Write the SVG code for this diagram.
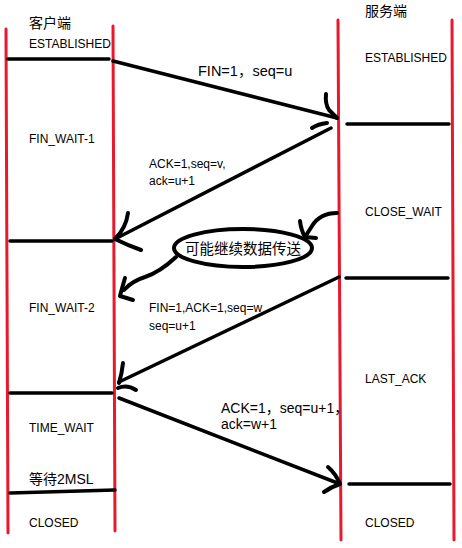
<svg xmlns="http://www.w3.org/2000/svg" width="462" height="548" viewBox="0 0 462 548">
<style>
.life{stroke:#e8192c;stroke-width:3;fill:none;stroke-linecap:round}
.ink{stroke:#000;stroke-width:3.5;fill:none;stroke-linecap:round;stroke-linejoin:round}
.head{stroke:#000;stroke-width:4;fill:none;stroke-linecap:round;stroke-linejoin:round}
text{font-family:"Liberation Sans","Noto Sans CJK SC",sans-serif;fill:#000}
.st{font-size:12px}
.hd{font-size:14px}
.msg{font-size:12px}
.big{font-size:14.5px}
.big2{font-size:14px}
</style>
<rect width="462" height="548" fill="#fff"/>
<g id="client">
  <line class="life" x1="6" y1="29" x2="8" y2="533"/>
  <line class="life" x1="113" y1="26" x2="115" y2="531"/>
  <text class="hd" x="29" y="28">客户端</text>
  <text class="st" x="29" y="48">ESTABLISHED</text>
  <text class="st" x="29" y="143">FIN_WAIT-1</text>
  <text class="st" x="29" y="312">FIN_WAIT-2</text>
  <text class="st" x="29" y="432">TIME_WAIT</text>
  <text class="hd" x="29" y="484">等待2MSL</text>
  <text class="st" x="29" y="527">CLOSED</text>
  <line class="ink" x1="8" y1="59" x2="109" y2="59"/>
  <line class="ink" x1="10" y1="241" x2="112" y2="241"/>
  <line class="ink" x1="10" y1="393" x2="112" y2="393"/>
  <line class="ink" x1="10" y1="493" x2="115" y2="490"/>
</g>
<g id="server">
  <line class="life" x1="338" y1="20" x2="341" y2="540"/>
  <line class="life" x1="452" y1="20" x2="454" y2="540"/>
  <text class="hd" x="365" y="16">服务端</text>
  <text class="st" x="365" y="62">ESTABLISHED</text>
  <text class="st" x="365" y="216">CLOSE_WAIT</text>
  <text class="st" x="365" y="383">LAST_ACK</text>
  <text class="st" x="365" y="527">CLOSED</text>
  <line class="ink" x1="347" y1="124" x2="449" y2="124"/>
  <line class="ink" x1="346" y1="278" x2="448" y2="278"/>
  <line class="ink" x1="349" y1="484" x2="450" y2="484"/>
</g>
<g id="note">
  <ellipse cx="243" cy="248" rx="69" ry="19" fill="none" stroke="#000" stroke-width="4"/>
  <text x="243" y="254" font-size="14.5" text-anchor="middle">可能继续数据传送</text>
</g>
<g id="connectors">
  <line class="ink" x1="113" y1="61" x2="337" y2="118"/>
  <path class="head" d="M326,94 Q325,104 329,110 L337,118"/>
  <path class="head" d="M312,128 Q318,124 327,123"/>
  <text class="big" x="198" y="76">FIN=1，seq=u</text>

  <line class="ink" x1="331" y1="128" x2="115" y2="239"/>
  <path class="head" d="M128,213 Q126,228 115,239 Q127,245 141,250"/>
  <text class="msg" x="149" y="168">ACK=1,seq=v,</text>
  <text class="msg" x="149" y="185">ack=u+1</text>

  <path class="head" d="M337,213 Q320,213 312,226 L305,237"/>
  <path class="head" d="M300,221 Q301,230 305,237 L316,238"/>
  <path class="head" d="M176,257 Q160,272 145,277 Q132,281 124,290"/>
  <path class="head" d="M125,278 Q122,288 120,296 L133,300"/>

  <line class="ink" x1="339" y1="277" x2="119" y2="382"/>
  <path class="head" d="M123,363 Q122,373 119,383"/>
  <path class="head" d="M118,388 Q127,384 136,390"/>
  <text class="msg" x="149" y="312">FIN=1,ACK=1,seq=w</text>
  <text class="msg" x="149" y="330">seq=u+1</text>

  <line class="ink" x1="119" y1="398" x2="340" y2="484"/>
  <path class="head" d="M328,467 Q336,474 340,484 Q331,487 324,492"/>
  <text class="big2" x="221" y="413">ACK=1，seq=u+1，</text>
  <text class="big2" x="221" y="429">ack=w+1</text>
</g>
</svg>
